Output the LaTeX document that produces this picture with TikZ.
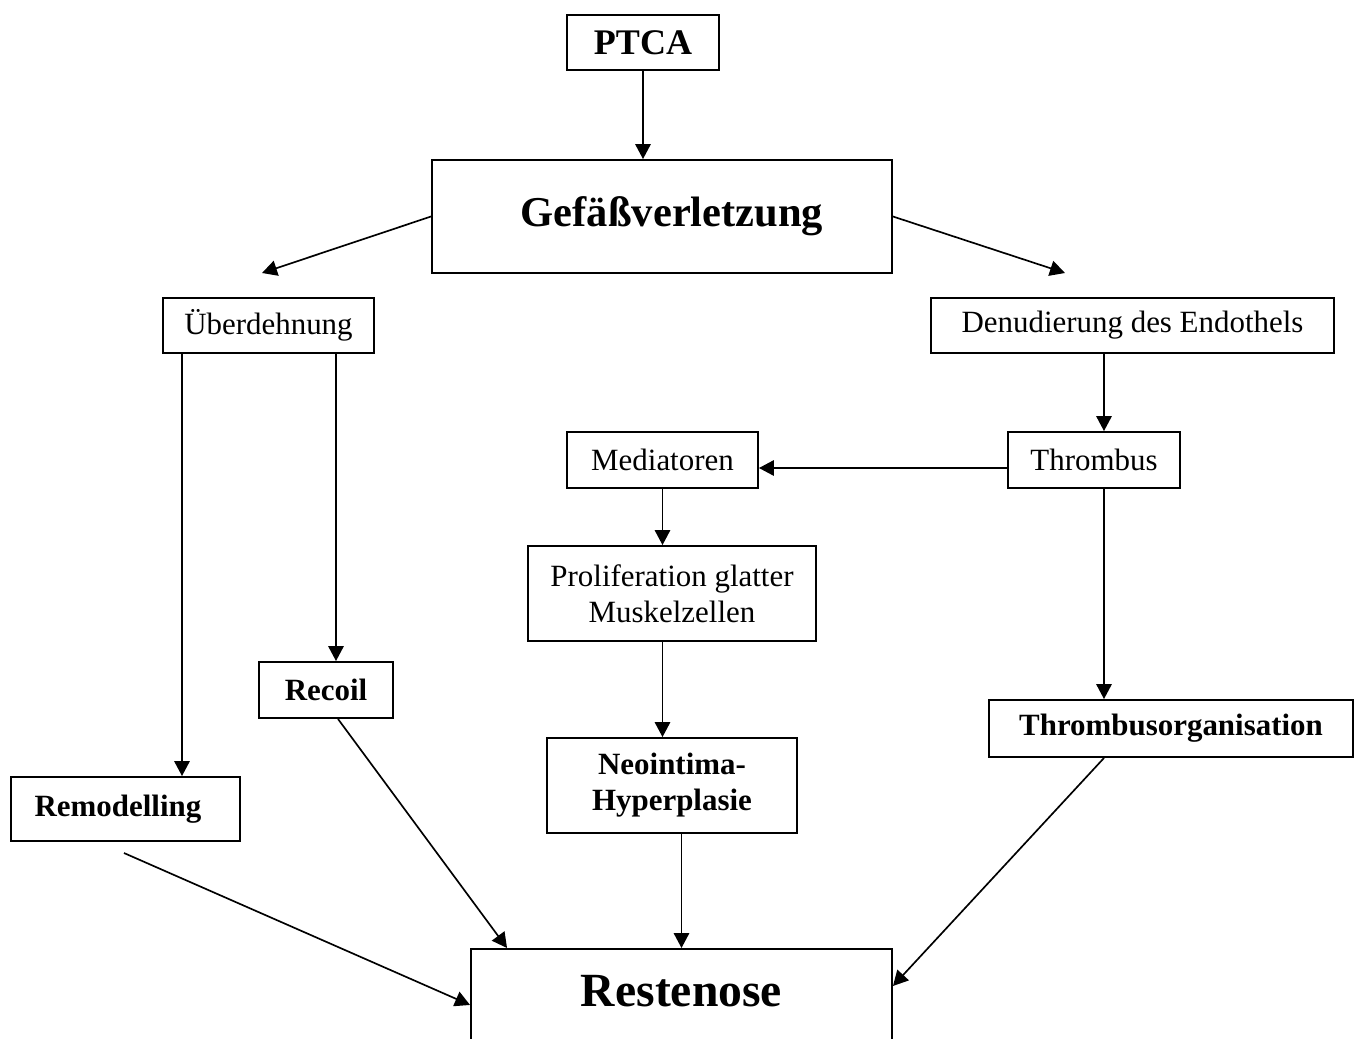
\documentclass[tikz,border=0pt]{standalone}
\usepackage{fontspec}
\setmainfont{Liberation Serif}
\usetikzlibrary{arrows.meta, positioning, calc}
\newcommand{\fsN}{\fontsize{17.6}{20.5}\selectfont}
\newcommand{\fsP}{\fontsize{20.5}{24}\selectfont\bfseries}
\newcommand{\fsG}{\fontsize{24.2}{28}\selectfont\bfseries}
\newcommand{\fsR}{\fontsize{27.1}{32}\selectfont\bfseries}
\tikzset{
  % plain box
  NB/.style={rectangle,draw=black,line width=1.1pt,minimum width=#1,
             minimum height=1.1cm,align=center,inner sep=0pt,font=\fsN},
  NB/.default=3cm,
  % bold box
  BB/.style={rectangle,draw=black,line width=1.1pt,minimum width=#1,
             minimum height=1.1cm,align=center,inner sep=0pt,
             font=\fsN\bfseries},
  BB/.default=3cm,
  % arrows
  Arr/.style={-{Triangle[length=0.3cm,width=0.31cm]},line width=0.95pt},
}
\begin{document}
\begin{tikzpicture}
        \useasboundingbox (0,0) rectangle (27.24,-20.78);
        % Top
        \node[BB=3.04cm,font=\fsP] at (12.86,-0.85) (ptca) {PTCA};
        \node[BB=9.2cm,minimum height=2.26cm,font=\fsG]
              at (13.24,-4.33) (gef) {\hspace*{0.4cm}Gefäßverletzung};
        \draw[Arr] (ptca.south) -- (ptca.south |- gef.north);
        % Two branches
        \node[NB=4.22cm] at (5.37,-6.51) (ueber) {Überdehnung};
        \node[NB=8.06cm] at (22.65,-6.51) (denud)
              {Denudierung des Endothels};
        \coordinate (lt) at (5.24,-5.46);
        \coordinate (rt) at (21.30,-5.46);
        \draw[Arr] (gef.west) -- (lt);
        \draw[Arr] (gef.east) -- (rt);
        % Columns
        \coordinate (c1) at (3.64,0);
        \coordinate (c2) at (6.72,0);
        \coordinate (c3) at (22.08,0);
        % Right side
        \node[NB=3.44cm,minimum height=1.12cm] at (21.88,-9.20) (thr)
              {Thrombus};
        \node[NB=3.82cm,minimum height=1.12cm] at (13.25,-9.20) (med)
              {Mediatoren};
        \draw[Arr] (c3 |- denud.south) -- (c3 |- thr.north);
        \draw[Arr] ([yshift=-0.16cm]thr.west)
              -- ([yshift=-0.16cm]thr.west -| med.east);
        \node[NB=5.76cm,minimum height=1.9cm] at (13.44,-11.87) (prol)
              {Proliferation glatter\\Muskelzellen};
        \draw[Arr] (med.south) -- (med.south |- prol.north);
        % Outcomes
        \node[BB=2.68cm,minimum height=1.12cm] at (6.52,-13.80) (recoil)
              {Recoil};
        \node[BB=5.0cm,minimum height=1.9cm] at (13.44,-15.71) (neo)
              {Neointima-\\Hyperplasie};
        \node[BB=7.28cm,minimum height=1.14cm] at (23.42,-14.57) (torg)
              {Thrombusorganisation};
        \node[BB=4.58cm,minimum height=1.28cm] at (2.51,-16.18) (remod)
              {Remodelling\hspace*{0.3cm}};
        \draw[Arr] (c1 |- ueber.south) -- (c1 |- remod.north);
        \draw[Arr] (c2 |- ueber.south) -- (c2 |- recoil.north);
        \draw[Arr] (med.south |- prol.south) -- (med.south |- neo.north);
        \draw[Arr] (c3 |- thr.south) -- (c3 |- torg.north);
        % Restenose
        \node[BB=8.42cm,font=\fsR,anchor=north,inner ysep=0pt,
              text height=1.16cm,text depth=1.08cm]
              at (13.63,-18.96) (rest) {Restenose};
        \coordinate (rs) at (2.48,-17.06);
        \draw[Arr] (rs) -- (rest.west);
        \draw[Arr] ([xshift=0.24cm]recoil.south)
              -- ([xshift=0.74cm]rest.north west);
        \draw[Arr] (rest.north |- neo.south) -- (rest.north);
        \draw[Arr] (c3 |- torg.south) -- ([yshift=0.38cm]rest.east);
\end{tikzpicture}
\end{document}
